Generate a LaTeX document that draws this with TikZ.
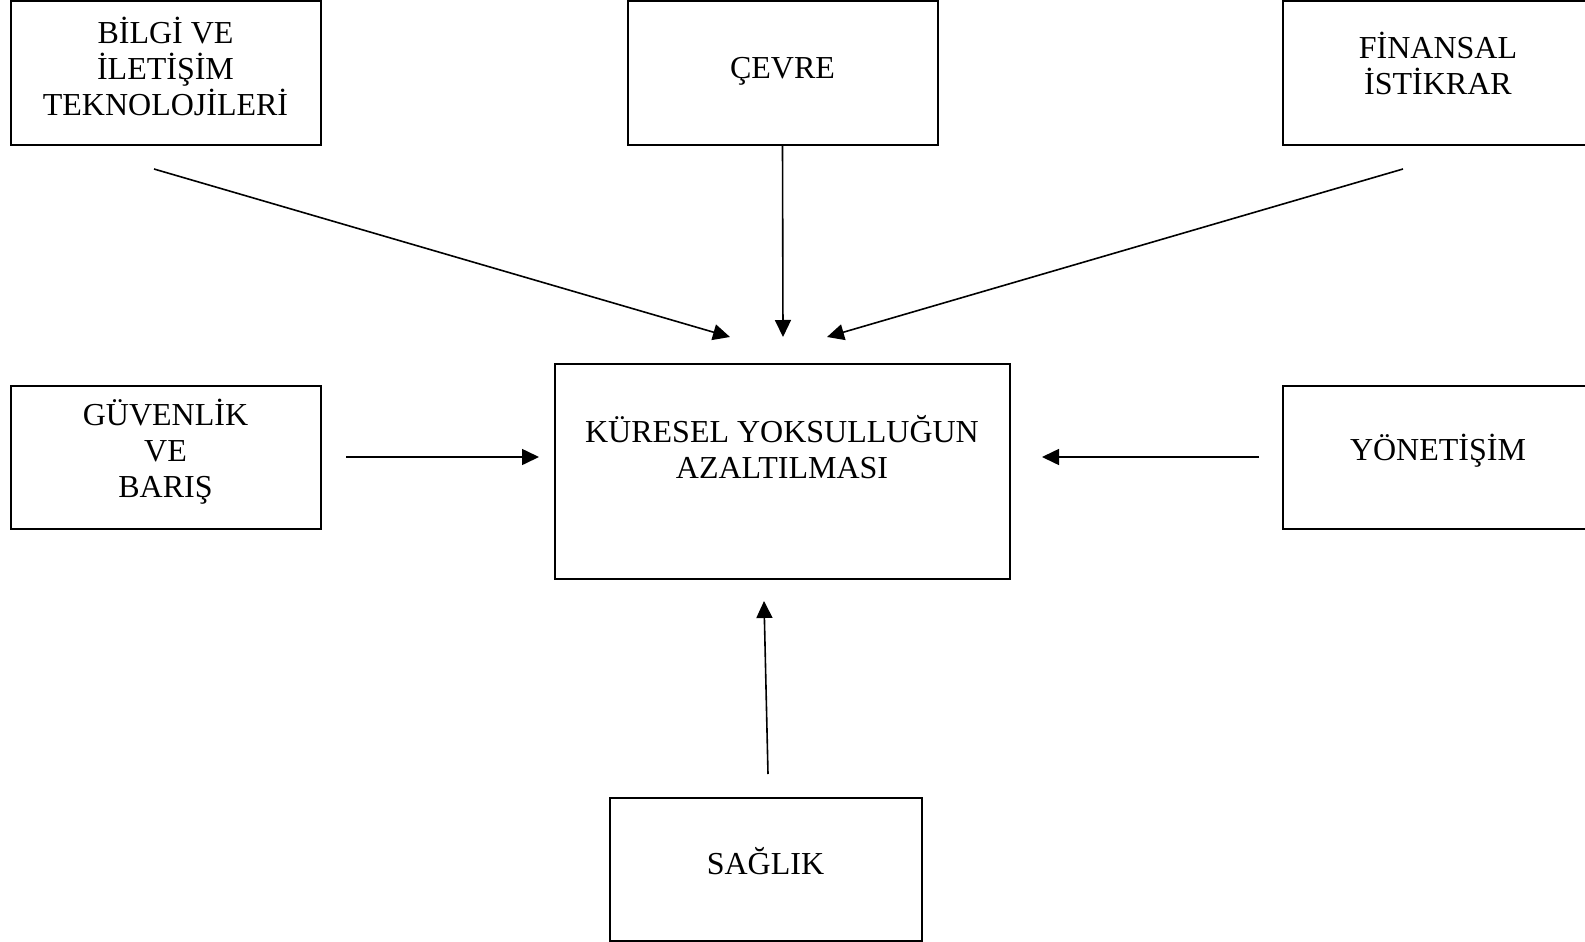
\documentclass[tikz,border=0pt]{standalone}
\usepackage{fontspec}
\setmainfont{Liberation Serif}
\usetikzlibrary{arrows.meta}
\begin{document}
\begin{tikzpicture}[x=1pt,y=-1pt,
  box/.style={draw=black,line width=2pt,rectangle,inner sep=0pt},
  lbl/.style={inner sep=0pt,align=center,font=\fontsize{32}{36}\selectfont},
  arr/.style={line width=1.6pt,-{Triangle[length=17pt,width=16pt]}}]
\useasboundingbox (0,0) rectangle (1585,942);
\fill[white] (0,0) rectangle (1585,942);
% boxes
\node[box,minimum width=310pt,minimum height=143pt] (bilgi) at (165.5,73) {};
\node[lbl] (bilgitext) at (165.5,66) {BİLGİ VE\\İLETİŞİM\\TEKNOLOJİLERİ};
\node[box,minimum width=310pt,minimum height=143pt] (cevre) at (782.5,73) {};
\node[lbl] (cevretext) at (782.5,71) {ÇEVRE};
\node[box,minimum width=310pt,minimum height=143pt] (finans) at (1438,73) {};
\node[lbl] (finanstext) at (1438,63) {FİNANSAL\\İSTİKRAR};
\node[box,minimum width=310pt,minimum height=143pt] (guven) at (165.5,457) {};
\node[lbl] (guventext) at (165.5,452) {GÜVENLİK\\VE\\BARIŞ};
\node[box,minimum width=455pt,minimum height=215pt] (center) at (782,471) {};
\node[lbl] (centertext) at (782,447) {KÜRESEL YOKSULLUĞUN\\AZALTILMASI};
\node[box,minimum width=310pt,minimum height=143pt] (yonet) at (1438,457) {};
\node[lbl] (yonettext) at (1438,451) {YÖNETİŞİM};
\node[box,minimum width=312pt,minimum height=143pt] (saglik) at (765.5,869) {};
\node[lbl] (sagliktext) at (765.5,861.5) {SAĞLIK};
% arrow ends
\coordinate (a1s) at (154,169);  \coordinate (a1e) at (730,337);
\coordinate (a2e) at (783,337);
\coordinate (a3s) at (1403,169); \coordinate (a3e) at (827,337);
\coordinate (a4s) at (346,457);  \coordinate (a4e) at (539,457);
\coordinate (a5s) at (1259,457); \coordinate (a5e) at (1042,457);
\coordinate (a6s) at (768,774);  \coordinate (a6e) at (764,601);
\draw[arr] (a1s) -- (a1e);
\draw[arr] (cevre.south) -- (a2e);
\draw[arr] (a3s) -- (a3e);
\draw[arr] (a4s) -- (a4e);
\draw[arr] (a5s) -- (a5e);
\draw[arr] (a6s) -- (a6e);
\end{tikzpicture}
\end{document}
